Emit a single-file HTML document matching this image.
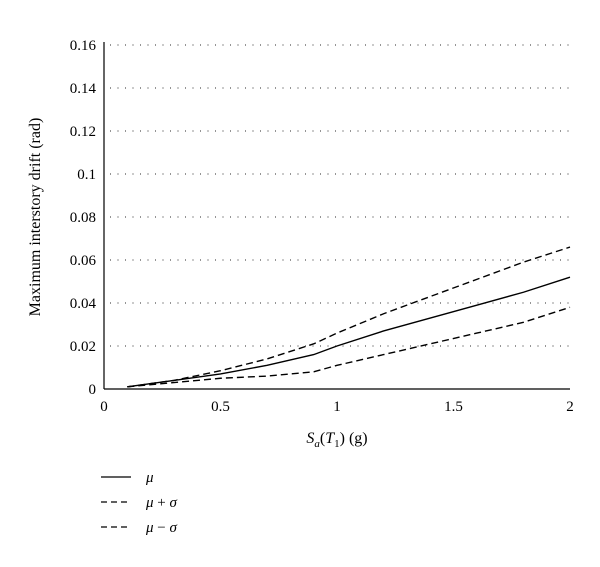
<!DOCTYPE html>
<html><head><meta charset="utf-8"><style>
body{margin:0;background:#fff}
svg{display:block;font-family:"Liberation Serif",serif}
</style></head><body>
<svg id="chart" width="600" height="567">
<g id="grid"></g>
<g id="axes"></g>
<g id="series"></g>
<text x="40" y="217" transform="rotate(-90 40 217)" text-anchor="middle" font-size="16">Maximum interstory drift (rad)</text>
<text x="337" y="443" text-anchor="middle" font-size="16"><tspan font-style="italic">S</tspan><tspan font-style="italic" font-size="11" dy="4">a</tspan><tspan dy="-4">(</tspan><tspan font-style="italic">T</tspan><tspan font-size="11" dy="4">1</tspan><tspan dy="-4">) (g)</tspan></text>
<g>
<g><line x1="101" y1="477" x2="131" y2="477" stroke="#000" stroke-width="1.3"/><text x="146" y="482" font-size="15" font-style="italic">μ</text></g>
<g><line x1="101" y1="502" x2="131" y2="502" stroke="#000" stroke-width="1.3" stroke-dasharray="6,4"/><text x="146" y="507" font-size="15"><tspan font-style="italic">μ</tspan> + <tspan font-style="italic">σ</tspan></text></g>
<g><line x1="101" y1="527" x2="131" y2="527" stroke="#000" stroke-width="1.3" stroke-dasharray="6,4"/><text x="146" y="532" font-size="15"><tspan font-style="italic">μ</tspan> − <tspan font-style="italic">σ</tspan></text></g>
</g>
</svg>
<script>
const xVals=[0.1,0.3,0.5,0.7,0.9,1.0,1.2,1.4,1.6,1.8,2.0];
const muVals=[0.001,0.004,0.007,0.011,0.016,0.020,0.027,0.033,0.039,0.045,0.052];
const plusVals=[0.001,0.004,0.0085,0.014,0.021,0.026,0.035,0.043,0.051,0.059,0.066];
const minusVals=[0.001,0.003,0.005,0.006,0.008,0.011,0.016,0.021,0.026,0.031,0.038];
const yTicks=[0,0.02,0.04,0.06,0.08,0.1,0.12,0.14,0.16];
const yTickLabels=["0","0.02","0.04","0.06","0.08","0.1","0.12","0.14","0.16"];
const xTicks=[0,0.5,1,1.5,2];
const xTickLabels=["0","0.5","1","1.5","2"];
const NS="http://www.w3.org/2000/svg";
const X0=104,X1=570,Y0=389,Y1=45;
const sx=v=>X0+(X1-X0)*v/2, sy=v=>Y0-(Y0-Y1)*v/0.16;
function mk(t,a,p){const e=document.createElementNS(NS,t);for(const k in a)e.setAttribute(k,a[k]);p.appendChild(e);return e;}
const grid=document.getElementById('grid'),axes=document.getElementById('axes'),ser=document.getElementById('series');
yTicks.forEach((v,i)=>{
 if(v>0){const l=mk('line',{x1:X0+6,x2:X1,y1:sy(v),y2:sy(v),stroke:'#555','stroke-width':1.2,'stroke-dasharray':'1,6.5'},grid);
 
 }
 const t=mk('text',{x:X0-8,y:sy(v)+5,'text-anchor':'end','font-size':15},axes);t.textContent=yTickLabels[i];
 
 
});
xTicks.forEach((v,i)=>{
 const t=mk('text',{x:sx(v),y:Y0+22,'text-anchor':'middle','font-size':15},axes);t.textContent=xTickLabels[i];
 
 
});
const ya=mk('line',{x1:X0,x2:X0,y1:Y1-3,y2:Y0,stroke:'#000','stroke-width':1.2},axes);


const xa=mk('line',{x1:X0,x2:X1,y1:Y0,y2:Y0,stroke:'#000','stroke-width':1.2},axes);


function line(vals,dash,name){
 const p=mk('polyline',{points:xVals.map((x,i)=>sx(x)+','+sy(vals[i])).join(' '),fill:'none',stroke:'#000','stroke-width':1.4},ser);
 if(dash)p.setAttribute('stroke-dasharray','7,4');
 
 
}
line(muVals,false,'mu-line');
line(plusVals,true,'mu-plus-sigma-line');
line(minusVals,true,'mu-minus-sigma-line');
</script>
</body></html>
